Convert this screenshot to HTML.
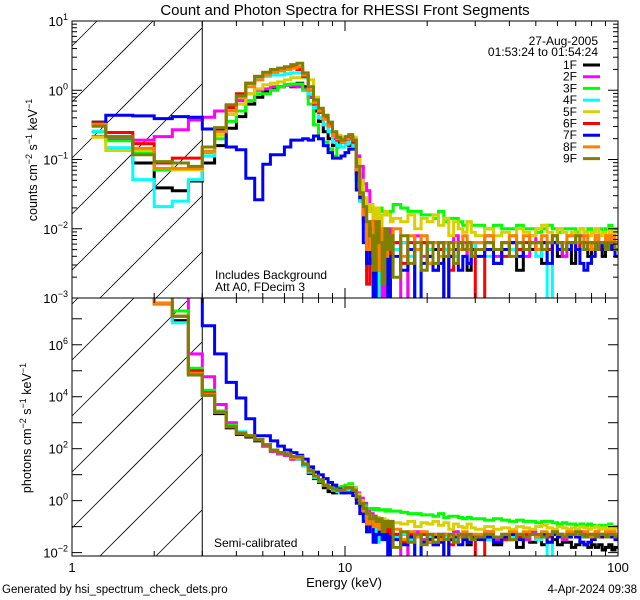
<!DOCTYPE html>
<html><head><meta charset="utf-8"><style>
html,body{margin:0;padding:0;background:#fff;width:640px;height:600px;overflow:hidden}
svg{display:block;overflow:hidden}
text{font-family:"Liberation Sans",sans-serif;fill:#000}
</style></head><body>
<svg id="chart" width="640" height="600" viewBox="0 0 640 600" xmlns="http://www.w3.org/2000/svg">
<text x="345" y="15" font-size="15" text-anchor="middle">Count and Photon Spectra for RHESSI Front Segments</text>
<text x="344" y="587" font-size="13" text-anchor="middle">Energy (keV)</text>
<text x="2" y="593" font-size="11.5">Generated by hsi_spectrum_check_dets.pro</text>
<text x="637" y="593" font-size="11.5" text-anchor="end">4-Apr-2024 09:38</text>
<text transform="translate(37,160) rotate(-90)" font-size="12.5" text-anchor="middle">counts cm<tspan dy="-5" font-size="9">−2</tspan><tspan dy="5"> s</tspan><tspan dy="-5" font-size="9">−1</tspan><tspan dy="5"> keV</tspan><tspan dy="-5" font-size="9">−1</tspan></text>
<text transform="translate(31,428) rotate(-90)" font-size="12.5" text-anchor="middle">photons cm<tspan dy="-5" font-size="9">−2</tspan><tspan dy="5"> s</tspan><tspan dy="-5" font-size="9">−1</tspan><tspan dy="5"> keV</tspan><tspan dy="-5" font-size="9">−1</tspan></text>
<text x="215" y="279" font-size="12">Includes Background</text>
<text x="215" y="291" font-size="12">Att A0, FDecim 3</text>
<text x="214" y="547" font-size="12">Semi-calibrated</text>
<text x="598" y="45" font-size="12" text-anchor="end">27-Aug-2005</text>
<text x="598" y="56" font-size="12" text-anchor="end">01:53:24 to 01:54:24</text>
<g id="layer"></g>
</svg>
<script>
// ---- data (log10 values) ----
const edges = [1.18,1.33,1.67,2,2.33,2.67,3,
3.33,3.67,4,4.33,4.67,5,5.33,5.67,6,6.33,6.67,7,7.33,7.67,8,8.33,8.67,9,9.33,9.67,10,10.33,10.67,11,11.33,11.67,12,12.33,12.67,13,13.33,13.67,14,14.33,14.67,15,
16,17,18,19,20,21,22,23,24,25,26,27,28,29,30,
32.5,35,37.5,40,42.5,45,47.5,50,52.5,55,57.5,60,62.5,65,67.5,70,72.5,75,77.5,80,82.5,85,87.5,90,92.5,95,97.5,100];
const detectors = ["1F","2F","3F","4F","5F","6F","7F","8F","9F"];
const colors = ["#000000","#ff00ff","#00ff00","#00ffff","#d8d000","#ff0000","#0000ff","#ff8000","#808000"];

const counts1F = [-0.46,-0.72,-1.05,-1.41,-1.45,-1.31,
-1.05,-0.8,-0.55,-0.38,-0.2,-0.1,-0.02,0.02,0.05,0.08,0.05,0.1,0.05,-0.1,-0.3,-0.45,-0.6,-0.7,-0.8,-0.75,-0.75,-0.78,-0.8,-0.78,-1.2,-1.6,-1.8,-2.1,-2.5,-2.2,-3.2,-2.3,-2.5,-2.2,-2.6,-2.3,
-2.3,-2.2,-3.2,-2.3,-2.2,-2.5,-2.3,-2.2,-3.2,-2.4,-2.3,-2.2,-2.3,-2.6,-2.3,-2.2,-2.3,-2.5,-2.3,-2.2,-2.6,-2.3,-2.3,-2.2,-2.5,-2.3,-2.2,-2.4,-2.3,-2.2,-2.5,-2.3,-2.2,-2.3,-2.4,-2.2,-2.3,-2.2,-2.4,-2.3,-2.2,-2.3,-2.2];
const counts2F = [-0.67,-0.67,-0.72,-0.67,-0.57,-0.43,
-0.39,-0.3,-0.22,-0.15,-0.05,0.0,0.02,0.05,0.05,0.07,0.06,0.05,0.02,-0.1,-0.25,-0.4,-0.5,-0.6,-0.7,-0.72,-0.75,-0.72,-0.7,-0.75,-0.95,-1.1,-1.35,-1.45,-1.7,-2.0,-2.3,-2.1,-3.2,-2.3,-2.0,-2.4,
-2.2,-3.2,-2.3,-2.1,-2.4,-2.2,-2.6,-2.3,-2.2,-2.4,-2.1,-2.3,-2.2,-2.5,-2.2,-2.3,-2.1,-2.4,-2.2,-2.3,-2.2,-2.4,-2.1,-2.3,-2.2,-2.3,-2.1,-2.2,-2.4,-2.2,-2.2,-2.3,-2.1,-2.2,-2.3,-2.2,-2.1,-2.3,-2.2,-2.2,-2.1,-2.2,-2.3];
const counts3F = [-0.6,-0.73,-0.89,-1.15,-1.14,-1.14,
-0.9,-0.7,-0.45,-0.3,-0.15,-0.05,-0.05,0.0,0.05,0.08,0.09,0.09,0.0,-0.2,-0.5,-0.7,-0.75,-0.85,-0.95,-0.82,-0.75,-0.7,-0.7,-0.75,-1.3,-1.5,-1.7,-1.65,-1.75,-1.85,-1.7,-1.7,-1.75,-1.8,-1.78,-1.75,
-1.65,-1.7,-1.75,-1.75,-1.8,-1.8,-1.85,-1.75,-1.9,-1.85,-1.85,-1.9,-1.95,-1.9,-1.95,-1.95,-2.0,-1.95,-2.0,-2.0,-1.95,-2.0,-2.0,-2.05,-2.0,-1.95,-2.0,-2.05,-2.0,-2.0,-2.0,-2.05,-2.0,-2.05,-2.0,-2.05,-2.0,-2.0,-2.05,-2.0,-1.95,-2.0,-2.0];
const counts4F = [-0.59,-0.83,-1.29,-1.68,-1.6,-1.29,
-0.95,-0.6,-0.3,-0.1,0.1,0.18,0.2,0.22,0.22,0.24,0.25,0.25,0.18,-0.05,-0.25,-0.4,-0.5,-0.6,-0.75,-0.8,-0.82,-0.78,-0.75,-0.8,-1.3,-1.6,-2.0,-2.6,-2.2,-2.4,-3.2,-2.5,-2.3,-2.6,-2.3,-2.5,
-2.3,-2.2,-2.4,-3.2,-2.2,-2.3,-2.5,-2.2,-2.3,-2.2,-2.4,-2.2,-2.3,-2.2,-2.3,-2.2,-2.4,-2.3,-2.2,-2.3,-2.2,-2.3,-2.2,-2.4,-2.3,-3.2,-2.2,-2.3,-2.2,-2.3,-2.2,-2.2,-2.3,-2.2,-2.2,-2.3,-2.2,-2.2,-2.3,-2.2,-2.2,-2.3,-2.2];
const counts5F = [-0.68,-0.87,-0.87,-1.05,-1.15,-1.15,
-0.88,-0.65,-0.35,-0.2,-0.05,0.02,0.08,0.1,0.12,0.15,0.18,0.18,0.22,0.15,-0.1,-0.3,-0.4,-0.5,-0.62,-0.65,-0.7,-0.68,-0.65,-0.68,-1.0,-1.3,-1.55,-1.75,-1.65,-1.85,-1.7,-2.2,-1.8,-1.75,-1.8,-1.9,
-1.85,-1.9,-1.8,-2.0,-1.85,-1.9,-1.8,-1.95,-1.85,-2.1,-1.9,-2.0,-2.05,-1.9,-2.05,-2.1,-2.0,-2.1,-2.05,-2.1,-2.0,-2.05,-2.1,-2.0,-1.95,-2.05,-2.1,-2.0,-2.05,-2.1,-2.05,-2.1,-2.0,-2.05,-2.1,-2.05,-2.0,-2.1,-2.05,-2.1,-2.0,-2.1,-2.05];
const counts6F = [-0.47,-0.61,-0.77,-1.05,-0.98,-0.98,
-0.82,-0.55,-0.25,-0.05,0.1,0.2,0.25,0.28,0.3,0.32,0.33,0.3,0.2,0.0,-0.2,-0.32,-0.4,-0.5,-0.65,-0.72,-0.75,-0.7,-0.68,-0.75,-1.2,-1.5,-1.9,-2.8,-1.9,-2.3,-1.9,-2.6,-2.1,-2.2,-3.0,-2.2,
-2.2,-2.5,-2.2,-2.3,-2.2,-2.4,-2.2,-2.3,-2.2,-2.6,-2.3,-2.2,-2.3,-2.2,-2.3,-3.2,-2.2,-2.3,-2.4,-2.2,-2.3,-2.2,-2.2,-2.3,-2.2,-2.3,-2.2,-2.2,-2.3,-2.2,-2.2,-2.3,-2.2,-2.2,-2.3,-2.2,-2.2,-2.3,-2.2,-2.2,-2.3,-2.2,-2.2];
const counts7F = [-0.49,-0.36,-0.37,-0.41,-0.38,-0.39,
-0.56,-0.57,-0.82,-0.86,-1.27,-1.58,-1.07,-0.93,-0.93,-0.82,-0.72,-0.72,-0.7,-0.72,-0.66,-0.7,-0.8,-0.9,-0.98,-0.98,-0.95,-0.9,-0.85,-0.85,-1.44,-1.55,-2.2,-2.5,-2.0,-3.2,-2.4,-2.1,-2.6,-2.3,-3.2,-2.4,
-2.4,-2.6,-2.3,-3.2,-2.5,-2.4,-2.6,-2.5,-3.2,-2.4,-2.3,-2.6,-2.4,-2.5,-2.3,-2.4,-2.3,-2.5,-2.3,-2.2,-2.4,-2.3,-2.2,-2.3,-2.2,-2.5,-2.2,-2.3,-2.2,-2.3,-2.2,-2.3,-2.5,-2.6,-2.5,-2.4,-2.3,-2.2,-2.3,-2.2,-2.3,-2.2,-2.4];
const counts8F = [-0.49,-0.67,-0.84,-1.13,-1.13,-1.13,
-0.88,-0.6,-0.3,-0.1,0.05,0.15,0.22,0.26,0.28,0.3,0.32,0.34,0.22,0.0,-0.18,-0.3,-0.42,-0.52,-0.65,-0.7,-0.75,-0.7,-0.66,-0.72,-1.15,-1.5,-1.8,-2.3,-1.9,-2.4,-2.0,-2.6,-2.0,-2.4,-2.1,-2.3,
-2.0,-2.4,-2.1,-2.3,-2.1,-2.5,-2.2,-2.4,-2.2,-2.3,-2.2,-2.3,-2.1,-2.3,-2.2,-2.2,-2.1,-2.3,-2.2,-2.1,-2.2,-2.1,-2.2,-2.3,-2.1,-2.2,-2.1,-2.2,-2.2,-2.1,-2.1,-2.2,-2.2,-2.1,-2.3,-2.2,-2.1,-2.2,-2.2,-2.1,-2.2,-2.1,-2.2];
const counts9F = [-0.52,-0.67,-0.93,-1.03,-1.05,-1.1,
-0.82,-0.54,-0.21,-0.08,0.1,0.2,0.26,0.3,0.32,0.34,0.37,0.39,0.25,0.05,-0.14,-0.26,-0.36,-0.46,-0.6,-0.68,-0.72,-0.67,-0.64,-0.72,-1.1,-1.48,-1.68,-1.9,-2.1,-2.6,-1.9,-2.2,-2.8,-2.0,-2.3,-2.1,
-2.7,-2.1,-2.5,-2.2,-2.6,-2.2,-2.5,-2.2,-2.4,-2.2,-2.5,-2.2,-2.3,-2.2,-2.4,-2.3,-2.2,-2.3,-2.2,-2.4,-2.2,-2.3,-2.2,-2.2,-2.3,-2.2,-2.1,-2.2,-2.3,-2.2,-2.2,-2.1,-2.2,-2.3,-2.2,-2.2,-2.3,-2.2,-2.2,-2.3,-2.2,-2.2,-2.3];

const photons1F = [9,9,9,7.6,6.93,4.84,
4.05,3.35,2.8,2.55,2.45,2.3,2.1,1.9,1.8,1.75,1.6,1.6,1.35,1.05,0.85,0.7,0.5,0.35,0.3,0.35,0.3,0.4,0.4,0.35,0.1,-0.15,-0.5,-0.7,-0.9,-0.8,-1.2,-1.0,-1.2,-1.1,-1.3,-1.2,
-1.4,-1.3,-2.2,-1.4,-1.3,-1.6,-1.4,-1.3,-2.2,-1.5,-1.4,-1.3,-1.4,-1.7,-1.4,-1.4,-1.5,-1.7,-1.5,-1.5,-1.8,-1.5,-1.6,-1.5,-1.7,-1.6,-1.5,-1.7,-1.6,-1.6,-1.8,-1.7,-1.6,-1.7,-1.8,-1.7,-1.8,-1.7,-1.9,-1.8,-1.7,-1.9,-1.8];
const photons2F = [9,9,9,9,8.5,5.65,
4.77,3.7,3.0,2.6,2.5,2.35,2.1,1.9,1.8,1.75,1.6,1.6,1.4,1.15,0.95,0.8,0.6,0.5,0.45,0.45,0.45,0.5,0.5,0.45,0.3,0.1,-0.1,-0.3,-0.5,-0.6,-0.9,-0.8,-1.2,-1.0,-0.9,-1.1,
-1.3,-2.2,-1.4,-1.2,-1.5,-1.3,-1.7,-1.4,-1.3,-1.5,-1.2,-1.4,-1.3,-1.6,-1.3,-1.4,-1.2,-1.5,-1.3,-1.4,-1.3,-1.5,-1.2,-1.4,-1.3,-1.4,-1.2,-1.3,-1.5,-1.3,-1.3,-1.4,-1.2,-1.3,-1.4,-1.3,-1.2,-1.4,-1.3,-1.3,-1.2,-1.3,-1.4];
const photons3F = [9,9,9,7.6,7.3,5.1,
4.25,3.45,2.9,2.6,2.5,2.35,2.15,1.95,1.85,1.8,1.65,1.65,1.4,1.1,0.9,0.75,0.6,0.55,0.5,0.5,0.55,0.6,0.65,0.5,0.2,-0.05,-0.2,-0.3,-0.3,-0.35,-0.3,-0.35,-0.35,-0.4,-0.35,-0.4,
-0.4,-0.45,-0.5,-0.5,-0.55,-0.55,-0.6,-0.5,-0.65,-0.6,-0.6,-0.65,-0.7,-0.65,-0.7,-0.7,-0.75,-0.7,-0.75,-0.8,-0.75,-0.8,-0.8,-0.85,-0.8,-0.8,-0.85,-0.9,-0.85,-0.9,-0.9,-0.95,-0.9,-0.95,-0.9,-0.95,-1.0,-0.95,-1.0,-0.95,-0.9,-1.0,-1.0];
const photons4F = [9,9,9,7.55,6.85,4.9,
4.05,3.4,2.85,2.65,2.5,2.35,2.15,1.95,1.85,1.8,1.65,1.6,1.35,1.1,0.9,0.8,0.6,0.5,0.4,0.35,0.35,0.4,0.45,0.4,0.1,-0.2,-0.5,-0.9,-0.8,-0.9,-1.6,-1.1,-1.0,-1.2,-1.0,-1.2,
-1.4,-1.3,-1.5,-2.2,-1.3,-1.4,-1.6,-1.3,-1.4,-1.3,-1.5,-1.3,-1.4,-1.3,-1.4,-1.3,-1.5,-1.4,-1.3,-1.4,-1.3,-1.4,-1.3,-1.5,-1.4,-2.2,-1.3,-1.4,-1.3,-1.4,-1.3,-1.3,-1.4,-1.3,-1.3,-1.4,-1.3,-1.3,-1.4,-1.3,-1.3,-1.4,-1.3];
const photons5F = [9,9,9,7.6,7.1,4.9,
4.1,3.4,2.85,2.6,2.5,2.35,2.15,1.95,1.85,1.8,1.65,1.65,1.45,1.2,0.95,0.8,0.6,0.5,0.45,0.45,0.45,0.5,0.55,0.45,0.25,0.0,-0.3,-0.5,-0.6,-0.7,-0.65,-0.8,-0.7,-0.75,-0.8,-0.85,
-0.85,-0.9,-0.8,-1.0,-0.85,-0.9,-0.8,-0.95,-0.85,-1.1,-0.9,-1.0,-1.05,-0.9,-1.05,-1.1,-1.0,-1.1,-1.05,-1.1,-1.0,-1.05,-1.1,-1.0,-0.95,-1.05,-1.1,-1.0,-1.05,-1.1,-1.05,-1.1,-1.0,-1.05,-1.1,-1.05,-1.0,-1.1,-1.05,-1.1,-1.0,-1.1,-1.05];
const photons6F = [9,9,9,7.6,7.1,5.0,
4.15,3.4,2.85,2.6,2.5,2.35,2.15,1.95,1.85,1.8,1.65,1.65,1.4,1.15,0.95,0.8,0.6,0.5,0.45,0.4,0.4,0.5,0.5,0.4,0.1,-0.2,-0.4,-1.2,-0.7,-0.9,-0.8,-1.1,-0.9,-1.0,-1.5,-1.0,
-1.3,-1.6,-1.3,-1.4,-1.3,-1.5,-1.3,-1.4,-1.3,-1.7,-1.4,-1.3,-1.4,-1.3,-1.4,-2.2,-1.3,-1.4,-1.5,-1.3,-1.4,-1.3,-1.3,-1.4,-1.3,-1.4,-1.3,-1.3,-1.4,-1.3,-1.3,-1.4,-1.3,-1.3,-1.4,-1.3,-1.3,-1.4,-1.3,-1.3,-1.4,-1.3,-1.3];
const photons7F = [9,9,9,9,9,9,
6.73,5.65,4.55,3.95,3.15,2.5,2.5,2.3,2.1,1.95,1.85,1.75,1.6,1.3,1.1,1.0,0.85,0.7,0.6,0.45,0.35,0.3,0.3,0.2,-0.1,-0.5,-0.8,-1.2,-1.0,-1.6,-1.3,-1.1,-1.5,-1.3,-2.2,-1.4,
-1.5,-1.7,-1.4,-2.2,-1.6,-1.5,-1.7,-1.6,-2.2,-1.5,-1.4,-1.7,-1.5,-1.6,-1.4,-1.5,-1.4,-1.6,-1.4,-1.3,-1.5,-1.4,-1.3,-1.4,-1.3,-1.6,-1.3,-1.4,-1.3,-1.4,-1.3,-1.4,-1.6,-1.7,-1.6,-1.5,-1.4,-1.3,-1.4,-1.3,-1.4,-1.3,-1.5];
const photons8F = [9,9,9,7.6,7.1,4.9,
4.1,3.4,2.85,2.6,2.5,2.35,2.15,1.95,1.85,1.8,1.65,1.65,1.4,1.15,0.95,0.8,0.6,0.5,0.45,0.4,0.4,0.5,0.5,0.4,0.15,-0.1,-0.4,-0.9,-0.7,-1.0,-0.8,-1.1,-0.8,-1.0,-0.9,-1.0,
-1.1,-1.5,-1.2,-1.4,-1.2,-1.6,-1.3,-1.5,-1.3,-1.4,-1.3,-1.4,-1.2,-1.4,-1.3,-1.3,-1.2,-1.4,-1.3,-1.2,-1.3,-1.2,-1.3,-1.4,-1.2,-1.3,-1.2,-1.3,-1.3,-1.2,-1.2,-1.3,-1.3,-1.2,-1.4,-1.3,-1.2,-1.3,-1.3,-1.2,-1.3,-1.2,-1.3];
const photons9F = [9,9,9,9,7.1,4.84,
4.05,3.4,2.85,2.6,2.5,2.35,2.15,1.95,1.85,1.8,1.7,1.7,1.4,1.15,0.95,0.8,0.6,0.5,0.45,0.4,0.4,0.5,0.5,0.4,0.15,-0.1,-0.3,-0.5,-0.7,-0.6,-0.8,-0.7,-1.2,-0.8,-1.0,-0.8,
-1.8,-1.2,-1.6,-1.3,-1.7,-1.3,-1.6,-1.3,-1.5,-1.3,-1.6,-1.3,-1.4,-1.3,-1.5,-1.4,-1.3,-1.4,-1.3,-1.5,-1.3,-1.4,-1.3,-1.3,-1.4,-1.3,-1.2,-1.3,-1.4,-1.3,-1.3,-1.2,-1.3,-1.4,-1.3,-1.3,-1.4,-1.3,-1.3,-1.4,-1.3,-1.3,-1.4];

const countSeries = [counts1F,counts2F,counts3F,counts4F,counts5F,counts6F,counts7F,counts8F,counts9F];
const photonSeries = [photons1F,photons2F,photons3F,photons4F,photons5F,photons6F,photons7F,photons8F,photons9F];
const topTickLabels = [1,0,-1,-2,-3];
const bottomTickLabels = [-2,0,2,4,6];
const xTickLabels = [1,10,100];

// ---- layout ----
const NS = "http://www.w3.org/2000/svg";
const X0 = 72, X1 = 618, XMIN = 0, XMAX = 2;
const TOP = {y0:21, y1:298, lmin:-3, lmax:1, name:"counts"};
const BOT = {y0:298, y1:556, lmin:-2.13, lmax:7.8, name:"photons"};
const THRESH = 3;
function xs(e){ return X0 + (Math.log10(e) - XMIN) / (XMAX - XMIN) * (X1 - X0); }
function ys(p, l){ return p.y1 - (l - p.lmin) / (p.lmax - p.lmin) * (p.y1 - p.y0); }
const layer = document.getElementById('layer');
function mk(tag, attrs, parent){ const e = document.createElementNS(NS, tag); for (const k in attrs) e.setAttribute(k, attrs[k]); (parent||layer).appendChild(e); return e; }

const defs = mk('defs', {});
[TOP, BOT].forEach((p, i) => {
  const cp = mk('clipPath', {id:'clip'+i}, defs);
  mk('rect', {x:X0, y:p.y0, width:X1-X0, height:p.y1-p.y0}, cp);
});

[TOP, BOT].forEach((p, pi) => {
  const g = mk('g', {});
  
  
  const hx = xs(THRESH);
  const hg = mk('g', {}, g);
  
  
  const H = p.y1 - p.y0;
  for (let k = -700; k < 400; k += 56) {
    // line: y = y1 - (x - X0 - k), geometrically clipped to box
    const xa = Math.max(X0, X0 + k), xb = Math.min(hx, X0 + k + H);
    if (xa >= xb) continue;
    const ya = p.y1 - (xa - X0 - k), yb = p.y1 - (xb - X0 - k);
    mk('line', {x1:xa.toFixed(1), y1:ya.toFixed(1), x2:xb.toFixed(1), y2:yb.toFixed(1), stroke:'#000', 'stroke-width':0.8}, hg);
  }
  mk('line', {x1:hx, y1:p.y0, x2:hx, y2:p.y1, stroke:'#000', 'stroke-width':1}, g);
  const data = pi === 0 ? countSeries : photonSeries;
  const sg = mk('g', {'clip-path':'url(#clip'+pi+')'}, g);
  data.forEach((arr, si) => {
    let d = '';
    for (let b = 0; b < arr.length; b++) {
      const xa = xs(edges[b]), xb = xs(edges[b+1]);
      const y = Math.max(Math.min(ys(p, arr[b]), p.y1 + 4), p.y0 - 4);
      d += (b === 0 ? 'M' : 'L') + xa.toFixed(1) + ',' + y.toFixed(1) + 'L' + xb.toFixed(1) + ',' + y.toFixed(1);
    }
    const path = mk('path', {d:d, fill:'none', stroke:colors[si], 'stroke-width':3, 'stroke-linejoin':'miter'}, sg);
    
    
  });
  mk('rect', {x:X0, y:p.y0, width:X1-X0, height:p.y1-p.y0, fill:'none', stroke:'#000', 'stroke-width':1}, g);
  for (let dec = 0; dec < 2; dec++) {
    for (let m = 1; m <= 9; m++) {
      const e = Math.pow(10, dec) * m;
      const x = xs(e), len = m === 1 ? 10 : 5;
      mk('line', {x1:x, y1:p.y1, x2:x, y2:p.y1-len, stroke:'#000'}, g);
      mk('line', {x1:x, y1:p.y0, x2:x, y2:p.y0+len, stroke:'#000'}, g);
    }
  }
  const lo = Math.ceil(p.lmin), hi = Math.floor(p.lmax);
  for (let l = lo; l <= hi; l++) {
    const y = ys(p, l);
    mk('line', {x1:X0, y1:y, x2:X0+10, y2:y, stroke:'#000'}, g);
    mk('line', {x1:X1, y1:y, x2:X1-10, y2:y, stroke:'#000'}, g);
    if (pi === 0) {
      for (let m = 2; m <= 9; m++) {
        const ym = ys(p, l + Math.log10(m));
        if (ym < p.y0) continue;
        mk('line', {x1:X0, y1:ym, x2:X0+5, y2:ym, stroke:'#000'}, g);
        mk('line', {x1:X1, y1:ym, x2:X1-5, y2:ym, stroke:'#000'}, g);
      }
    }
  }
  const labs = pi === 0 ? topTickLabels : bottomTickLabels;
  labs.forEach(l => {
    const y = ys(p, l);
    const t = mk('text', {x:X0-4, y:y+5, 'font-size':13, 'text-anchor':'end'}, g);
    
    
    const s1 = document.createElementNS(NS, 'tspan'); s1.textContent = '10'; t.appendChild(s1);
    const s2 = document.createElementNS(NS, 'tspan'); s2.setAttribute('dy', '-6'); s2.setAttribute('font-size', '9');
    s2.textContent = l < 0 ? '−' + (-l) : String(l); t.appendChild(s2);
  });
});

xTickLabels.forEach(v => {
  const t = mk('text', {x:xs(v), y:572, 'font-size':13, 'text-anchor':'middle'});
  
  
  t.textContent = String(v);
});

detectors.forEach((d, i) => {
  const y = 65 + i * 11.7;
  const t = mk('text', {x:577, y:y+4, 'font-size':12, 'text-anchor':'end'});
  
  
  t.textContent = d;
  const l = mk('line', {x1:583, y1:y, x2:600, y2:y, stroke:colors[i], 'stroke-width':3});
  
  
});
</script>
</body></html>
